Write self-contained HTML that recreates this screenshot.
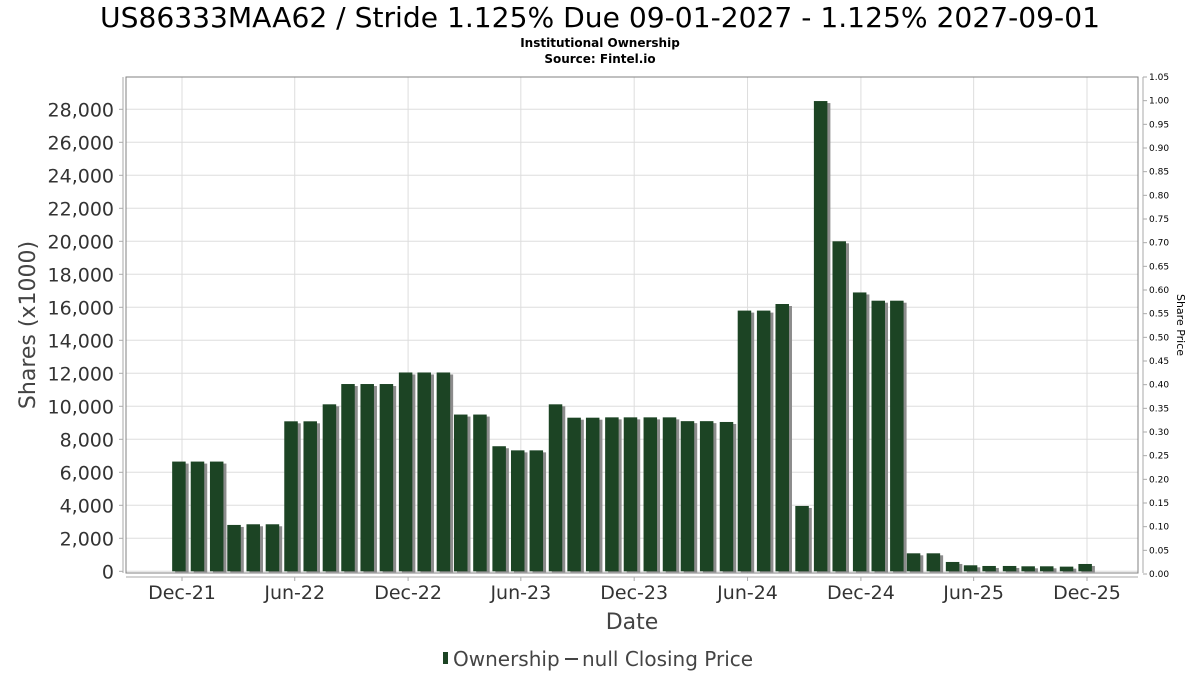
<!DOCTYPE html>
<html><head><meta charset="utf-8"><style>
body{margin:0;background:#fff;width:1200px;height:675px;overflow:hidden;font-family:"DejaVu Sans","Liberation Sans",sans-serif}
svg text{font-family:"DejaVu Sans","Liberation Sans",sans-serif}
</style></head><body>
<svg id="chart" width="1200" height="675" xmlns="http://www.w3.org/2000/svg">
<text x="600" y="27" text-anchor="middle" font-size="28" fill="#000" textLength="1000" lengthAdjust="spacingAndGlyphs">US86333MAA62 / Stride 1.125% Due 09-01-2027 - 1.125% 2027-09-01</text>
<text x="600" y="47" text-anchor="middle" font-size="12" font-weight="bold" fill="#000">Institutional Ownership</text>
<text x="600" y="63" text-anchor="middle" font-size="12" font-weight="bold" fill="#000">Source: Fintel.io</text>
<g id="grid"></g>
<g id="bars"></g>
<rect x="126" y="77" width="1012" height="496" fill="none" stroke="#808080" stroke-width="1"/>
<line x1="123" y1="77" x2="123" y2="573" stroke="#aaa"/>
<line x1="1143" y1="77" x2="1143" y2="573" stroke="#aaa"/>
<line x1="126" y1="577" x2="1138" y2="577" stroke="#aaa"/>
<g id="yticks"></g>
<g id="y2ticks"></g>
<g id="xticks"></g>
<text transform="translate(35,325) rotate(-90)" text-anchor="middle" font-size="22" fill="#444">Shares (x1000)</text>
<text transform="translate(1177,325) rotate(90)" text-anchor="middle" font-size="11" fill="#000">Share Price</text>
<text x="632" y="629" text-anchor="middle" font-size="22" fill="#444">Date</text>
<g>
<rect x="443" y="652" width="5" height="12" fill="#1c4424"/>
<text x="453" y="666" font-size="20" fill="#444">Ownership</text>
<line x1="565" y1="659" x2="578" y2="659" stroke="#444" stroke-width="2"/>
<text x="582" y="666" font-size="20" fill="#444">null Closing Price</text>
</g>
</svg>
<script>
const dates=["2021-11-26","2021-12-26","2022-01-26","2022-02-23","2022-03-26","2022-04-26","2022-05-26","2022-06-26","2022-07-27","2022-08-26","2022-09-26","2022-10-27","2022-11-27","2022-12-27","2023-01-27","2023-02-24","2023-03-27","2023-04-27","2023-05-27","2023-06-26","2023-07-27","2023-08-26","2023-09-25","2023-10-26","2023-11-25","2023-12-27","2024-01-27","2024-02-25","2024-03-27","2024-04-28","2024-05-27","2024-06-27","2024-07-27","2024-08-28","2024-09-27","2024-10-27","2024-11-29","2024-12-29","2025-01-28","2025-02-24","2025-03-28","2025-04-28","2025-05-27","2025-06-26","2025-07-29","2025-08-28","2025-09-27","2025-10-29","2025-11-28"];
const shares=[6650,6650,6650,2810,2850,2850,9090,9090,10120,11350,11350,11350,12050,12050,12050,9500,9500,7580,7330,7330,10120,9310,9310,9330,9330,9330,9330,9100,9100,9050,15800,15800,16200,3960,28500,20000,16900,16400,16400,1090,1090,566,364,323,323,303,303,283,444];
const yTicks=[0,2000,4000,6000,8000,10000,12000,14000,16000,18000,20000,22000,24000,26000,28000];
const y2Ticks=[0,0.05,0.1,0.15,0.2,0.25,0.3,0.35,0.4,0.45,0.5,0.55,0.6,0.65,0.7,0.75,0.8,0.85,0.9,0.95,1.0,1.05];
const xTickDates=["2021-12-01","2022-06-01","2022-12-01","2023-06-01","2023-12-01","2024-06-01","2024-12-01","2025-06-01","2025-12-01"];
const xTickLabels=["Dec-21","Jun-22","Dec-22","Jun-23","Dec-23","Jun-24","Dec-24","Jun-25","Dec-25"];
const NS="http://www.w3.org/2000/svg";
const t0=Date.parse("2021-12-01"),t1=Date.parse("2025-12-01");
function x(d){return 182+(Date.parse(d)-t0)/(t1-t0)*905;}
function y(v){return 571.3-v*(462/28000);}
function y2(v){return 574-v*(497/1.05);}
function mk(tag,attrs,parent){const e=document.createElementNS(NS,tag);for(const k in attrs)e.setAttribute(k,attrs[k]);parent.appendChild(e);return e;}
const grid=document.getElementById('grid'),bars=document.getElementById('bars');
const yt=document.getElementById('yticks'),y2t=document.getElementById('y2ticks'),xt=document.getElementById('xticks');
yTicks.forEach(v=>{
  const g=mk('line',{x1:126,x2:1138,y1:y(v),y2:y(v),stroke:'#ddd'},grid);
  
  
  mk('line',{x1:119,x2:123,y1:y(v),y2:y(v),stroke:'#aaa'},yt);
  const t=mk('text',{x:114,y:y(v)+7,'text-anchor':'end','font-size':19,fill:'#333'},yt);
  t.textContent=v.toLocaleString('en-US');
  
  
});
y2Ticks.forEach(v=>{
  mk('line',{x1:1143,x2:1147,y1:y2(v),y2:y2(v),stroke:'#aaa'},y2t);
  const t=mk('text',{x:1149,y:y2(v)+3,'font-size':9,fill:'#000'},y2t);
  t.textContent=v.toFixed(2);
  
  
});
xTickDates.forEach((d,i)=>{
  const X=x(d);
  const g=mk('line',{x1:X,x2:X,y1:77,y2:573,stroke:'#ddd'},grid);
  
  
  mk('line',{x1:X,x2:X,y1:577,y2:581,stroke:'#aaa'},xt);
  const t=mk('text',{x:X,y:599,'text-anchor':'middle','font-size':19,fill:'#333'},xt);
  t.textContent=xTickLabels[i];
  
  
});
const bw=13.5;
shares.forEach((v,i)=>{
  const X=x(dates[i]),Y=y(v),base=y(0);
  const s=mk('rect',{x:X-bw/2+3,y:Y+2,width:bw,height:Math.max(0,base-Y-1),fill:'#8c8c8c'},bars);
  
  
  const b=mk('rect',{x:X-bw/2,y:Y,width:bw,height:Math.max(0,base-Y),fill:'#1c4424'},bars);
  
  
});
</script>
</body></html>
